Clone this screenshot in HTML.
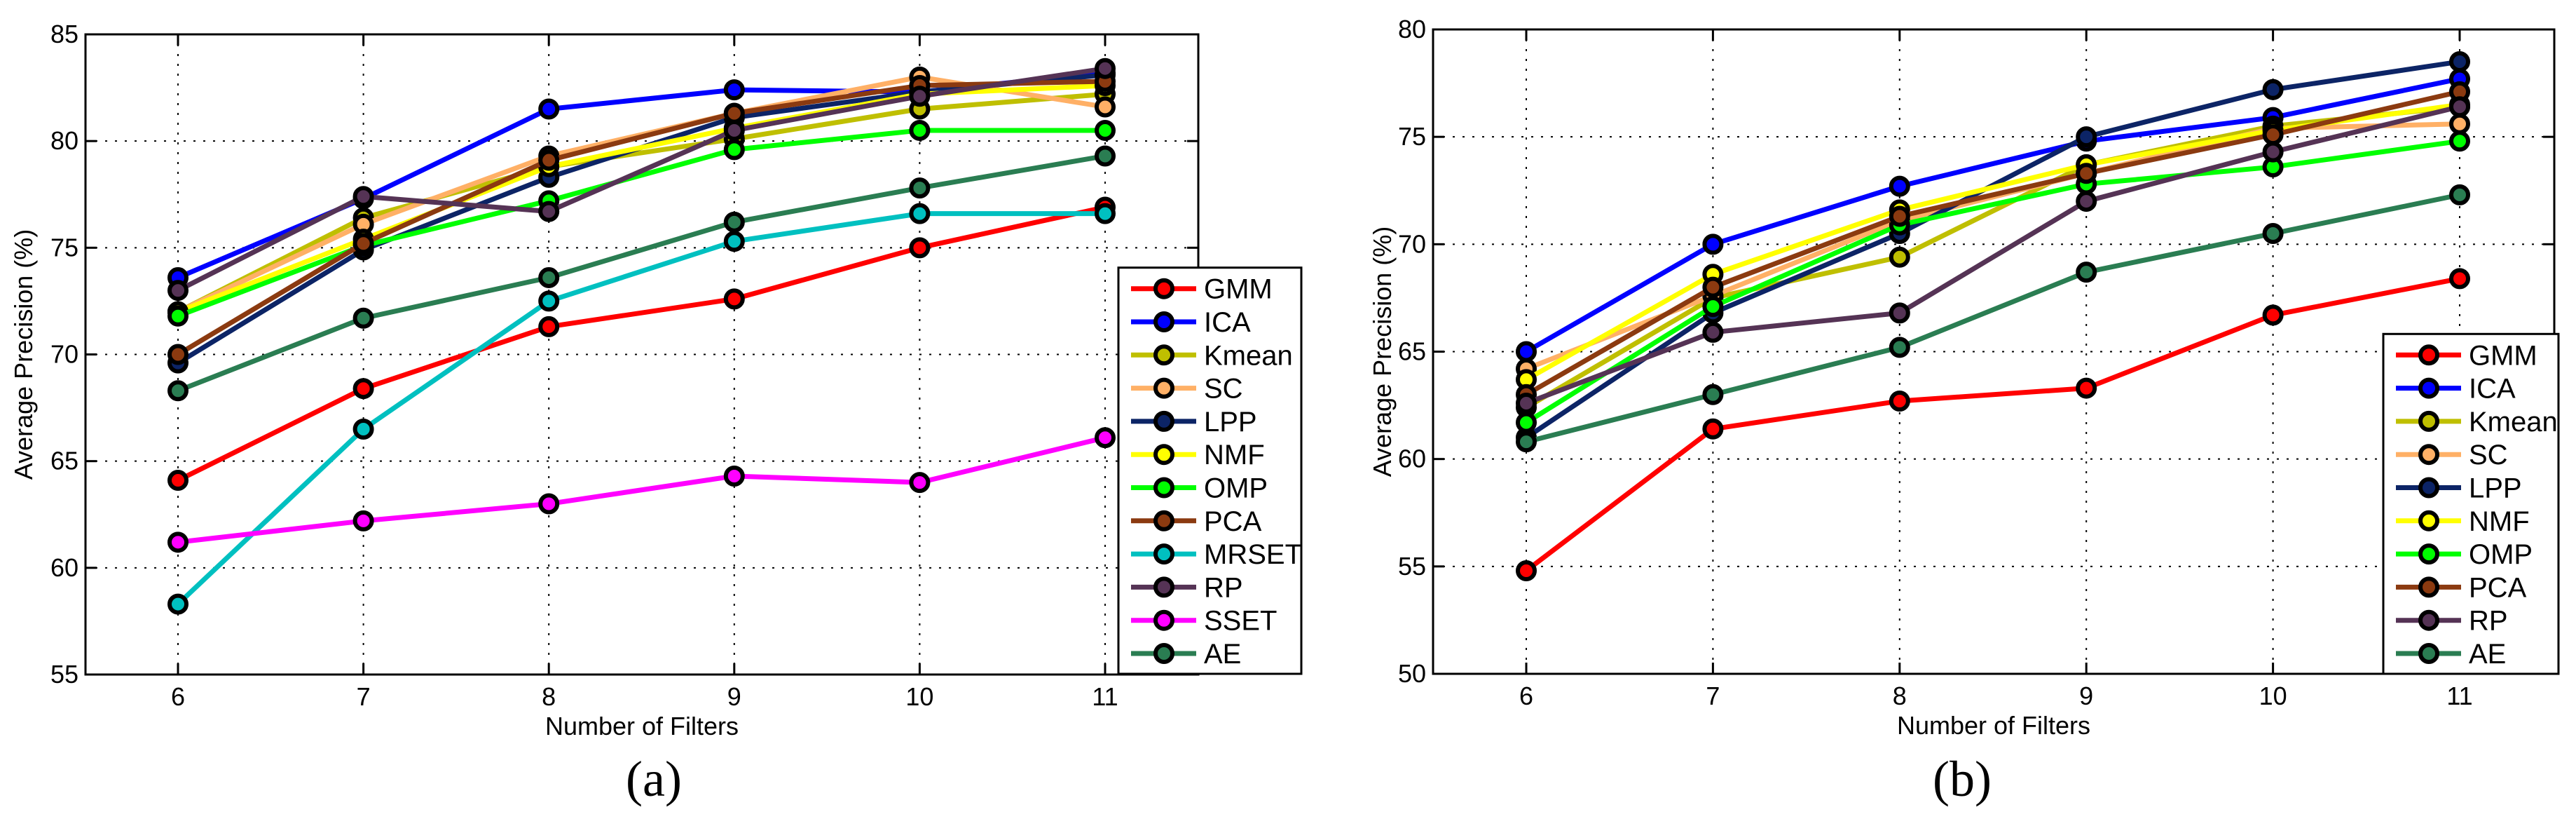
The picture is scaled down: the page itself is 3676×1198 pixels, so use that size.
<!DOCTYPE html>
<html><head><meta charset="utf-8">
<style>
html,body{margin:0;padding:0;background:#fff;}
svg{display:block;font-family:"Liberation Sans",sans-serif;}
</style></head>
<body>
<svg id="fig" width="3676" height="1198" viewBox="0 0 3676 1198" xmlns="http://www.w3.org/2000/svg"></svg>
<script>
const xCategories=[6,7,8,9,10,11];
const namesA=["GMM","ICA","Kmean","SC","LPP","NMF","OMP","PCA","MRSET","RP","SSET","AE"];
const gmmA=[64.1,68.4,71.3,72.6,75.0,76.9];
const icaA=[73.6,77.3,81.5,82.4,82.3,83.2];
const kmeanA=[72.0,76.4,78.8,80.1,81.5,82.2];
const scA=[72.0,76.1,79.3,81.3,83.0,81.6];
const lppA=[69.6,74.9,78.3,81.1,82.3,83.1];
const nmfA=[72.0,75.4,78.8,80.6,82.2,82.6];
const ompA=[71.8,75.1,77.2,79.6,80.5,80.5];
const pcaA=[70.0,75.2,79.1,81.3,82.6,82.8];
const mrsetA=[58.3,66.5,72.5,75.3,76.6,76.6];
const rpA=[73.0,77.4,76.7,80.5,82.1,83.4];
const ssetA=[61.2,62.2,63.0,64.3,64.0,66.1];
const aeA=[68.3,71.7,73.6,76.2,77.8,79.3];
const yTicksA=[55,60,65,70,75,80,85];
const namesB=["GMM","ICA","Kmean","SC","LPP","NMF","OMP","PCA","RP","AE"];
const gmmB=[54.8,61.4,62.7,63.3,66.7,68.4];
const icaB=[65.0,70.0,72.7,74.8,75.9,77.7];
const kmeanB=[62.4,67.5,69.4,73.7,75.5,76.4];
const scB=[64.2,67.6,71.1,73.3,75.4,75.6];
const lppB=[61.0,66.8,70.5,75.0,77.2,78.5];
const nmfB=[63.7,68.6,71.6,73.7,75.3,76.5];
const ompB=[61.7,67.1,70.9,72.8,73.6,74.8];
const pcaB=[63.0,68.0,71.3,73.3,75.1,77.1];
const rpB=[62.6,65.9,66.8,72.0,74.3,76.4];
const aeB=[60.8,63.0,65.2,68.7,70.5,72.3];
const yTicksB=[50,55,60,65,70,75,80];

const colors={GMM:"#ff0000",ICA:"#0000ff",Kmean:"#bfbf00",SC:"#ffb066",LPP:"#0c2466",NMF:"#ffff00",OMP:"#00ff00",PCA:"#8b3a10",MRSET:"#00c0c0",RP:"#553355",SSET:"#ff00ff",AE:"#2a7d52"};
const NS="http://www.w3.org/2000/svg";
const svg=document.getElementById("fig");
function mk(tag,attrs,parent){const e=document.createElementNS(NS,tag);for(const k in attrs)e.setAttribute(k,attrs[k]);(parent||svg).appendChild(e);return e;}

function drawChart(cfg){
  const g=mk("g",{});
  
  
  const L=cfg.L,R=cfg.R,T=cfg.T,B=cfg.B;
  const xs=v=>cfg.x6+(v-6)*cfg.dx;
  const ys=v=>B-(v-cfg.ymin)/(cfg.ymax-cfg.ymin)*(B-T);
  // grid
  xCategories.forEach(c=>{
    const l=mk("line",{x1:xs(c),x2:xs(c),y1:T,y2:B,stroke:"#000","stroke-width":2,"stroke-dasharray":"3,11"},g);
    
    
    mk("line",{x1:xs(c),x2:xs(c),y1:T,y2:T+16,stroke:"#000","stroke-width":3},g);
    mk("line",{x1:xs(c),x2:xs(c),y1:B,y2:B-16,stroke:"#000","stroke-width":3},g);
    const t=mk("text",{x:xs(c),y:B+44,"font-size":36,"text-anchor":"middle"},g);
    t.textContent=c;
    
    
  });
  cfg.yTicks.forEach(v=>{
    if(v>cfg.ymin&&v<cfg.ymax){
      const l=mk("line",{x1:L,x2:R,y1:ys(v),y2:ys(v),stroke:"#000","stroke-width":2,"stroke-dasharray":"3,11"},g);
      
      
    }
    mk("line",{x1:L,x2:L+16,y1:ys(v),y2:ys(v),stroke:"#000","stroke-width":3},g);
    mk("line",{x1:R,x2:R-16,y1:ys(v),y2:ys(v),stroke:"#000","stroke-width":3},g);
    const t=mk("text",{x:L-10,y:ys(v)+12,"font-size":36,"text-anchor":"end"},g);
    t.textContent=v;
    
    
  });
  const box=mk("rect",{x:L,y:T,width:R-L,height:B-T,fill:"none",stroke:"#000","stroke-width":3},g);
  
  
  // series
  cfg.names.forEach((n,i)=>{
    const d=cfg.series[i];
    const sg=mk("g",{},g);
    
    
    const pts=d.map((v,j)=>xs(xCategories[j])+","+ys(v)).join(" ");
    const pl=mk("polyline",{points:pts,fill:"none",stroke:colors[n],"stroke-width":7,"stroke-linejoin":"round"},sg);
    
    
    d.forEach((v,j)=>{
      const c=mk("circle",{cx:xs(xCategories[j]),cy:ys(v),r:12,fill:colors[n],stroke:"#000","stroke-width":6},sg);
      
      
    });
  });
  // axis titles
  const yt=mk("text",{x:0,y:0,"font-size":36,"text-anchor":"middle",transform:`translate(${cfg.ytx},${(T+B)/2}) rotate(-90)`},g);
  yt.textContent="Average Precision (%)";
  
  
  const xt=mk("text",{x:(L+R)/2,y:B+86,"font-size":36,"text-anchor":"middle"},g);
  xt.textContent="Number of Filters";
  
  
  const cap=mk("text",{x:cfg.capX,y:1135,"font-size":72,"text-anchor":"middle","font-family":"Liberation Serif, serif"},g);
  cap.textContent=cfg.caption;
  
  
  // legend
  const lg=mk("g",{},g);
  
  
  const sp=47.3, n=cfg.names.length;
  const firstY=932-(n-1)*sp;
  mk("rect",{x:cfg.legL,y:firstY-30,width:cfg.legR-cfg.legL,height:961-(firstY-30),fill:"#fff",stroke:"#000","stroke-width":3},lg);
  cfg.names.forEach((nm,i)=>{
    const y=firstY+i*sp;
    const eg=mk("g",{},lg);
    
    
    mk("line",{x1:cfg.legL+18,x2:cfg.legL+111,y1:y,y2:y,stroke:colors[nm],"stroke-width":7},eg);
    mk("circle",{cx:cfg.legL+65,cy:y,r:12,fill:colors[nm],stroke:"#000","stroke-width":6},eg);
    const t=mk("text",{x:cfg.legL+122,y:y+14,"font-size":40},eg);
    t.textContent=nm;
  });
}
drawChart({id:"chart-a",L:122,R:1710,T:49,B:962,x6:254,dx:264.6,ymin:55,ymax:85,yTicks:yTicksA,
  names:namesA,series:[gmmA,icaA,kmeanA,scA,lppA,nmfA,ompA,pcaA,mrsetA,rpA,ssetA,aeA],
  ytx:46,capX:933,caption:"(a)",legL:1596,legR:1857});
drawChart({id:"chart-b",L:2045,R:3645,T:42,B:961,x6:2178,dx:266.4,ymin:50,ymax:80,yTicks:yTicksB,
  names:namesB,series:[gmmB,icaB,kmeanB,scB,lppB,nmfB,ompB,pcaB,rpB,aeB],
  ytx:1985,capX:2800,caption:"(b)",legL:3401,legR:3651});
</script>
</body></html>
